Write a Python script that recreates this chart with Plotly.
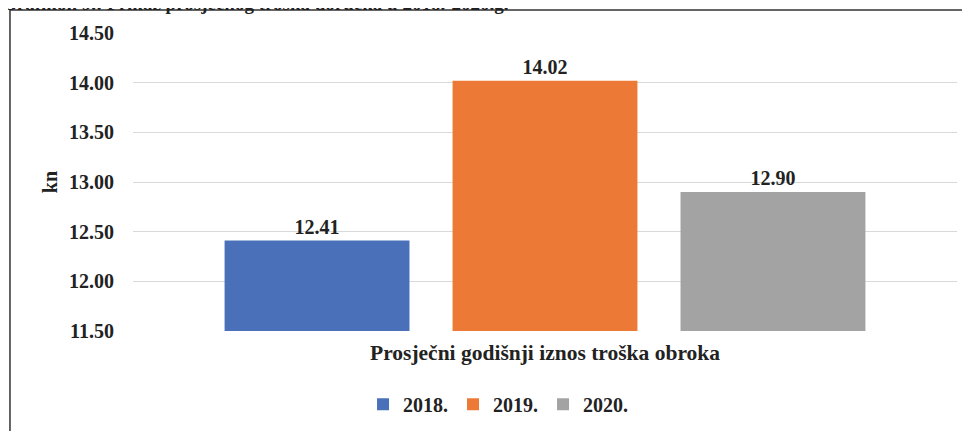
import plotly.graph_objects as go

category = ["Prosječni godišnji iznos troška obroka"]
years = ["2018.", "2019.", "2020."]
values = [12.41, 14.02, 12.90]
colors = ["#4A70B9", "#EC7A36", "#A3A3A3"]
y_ticks = [11.5, 12.0, 12.5, 13.0, 13.5, 14.0, 14.5]

FONT = "Liberation Serif, Times New Roman, DejaVu Serif, serif"
INK = "#222222"


def bold(size):
    return dict(size=size, family=FONT, color=INK, weight="bold")


fig = go.Figure()
for yr, v, c in zip(years, values, colors):
    fig.add_trace(go.Bar(
        name=yr, x=category, y=[v],
        marker=dict(color=c, line=dict(width=0)),
        text=[f"{v:.2f}"], textposition="outside",
        textfont=bold(20),
        cliponaxis=False,
    ))

# the page body has an 8px margin, so the figure is 8px smaller than the window
fig.update_layout(
    width=962, height=423,
    margin=dict(l=125, r=13, t=25, b=100, autoexpand=False),
    paper_bgcolor="white", plot_bgcolor="white",
    barmode="group", bargap=0.17, bargroupgap=0.189,
    font=bold(20),
    xaxis=dict(showgrid=False, showline=False, ticks="", automargin=False,
               ticklabelstandoff=6, tickfont=bold(21.5)),
    yaxis=dict(range=[11.5, 14.5], tickvals=y_ticks, tickformat=".2f",
               showgrid=True, gridcolor="#D9D9D9", gridwidth=1,
               zeroline=False, showline=False, ticks="", automargin=False,
               ticklabelstandoff=18,
               tickfont=bold(20),
               title=dict(text="kn", standoff=6, font=bold(20))),
    legend=dict(orientation="h", x=0.443, xanchor="center", y=-0.18, yanchor="top",
                font=bold(20), itemwidth=30, traceorder="normal"),
    showlegend=True,
)

# outer frame of the figure
fig.add_shape(type="rect", xref="paper", yref="paper",
              x0=-0.1493, x1=1.05, y0=-0.5, y1=1.0772,
              line=dict(color="#333333", width=1.5), fillcolor="rgba(0,0,0,0)",
              layer="below")

# caption, cut off by the top edge as in the source
fig.add_annotation(
    text="Grafikon 9.: Prikaz prosječnog troška doručka u 2018.-2020.g.",
    xref="paper", yref="paper", x=-0.1614, y=1.0995,
    xanchor="left", yanchor="middle", showarrow=False,
    font=bold(19),
)

fig.write_html("out.html")
